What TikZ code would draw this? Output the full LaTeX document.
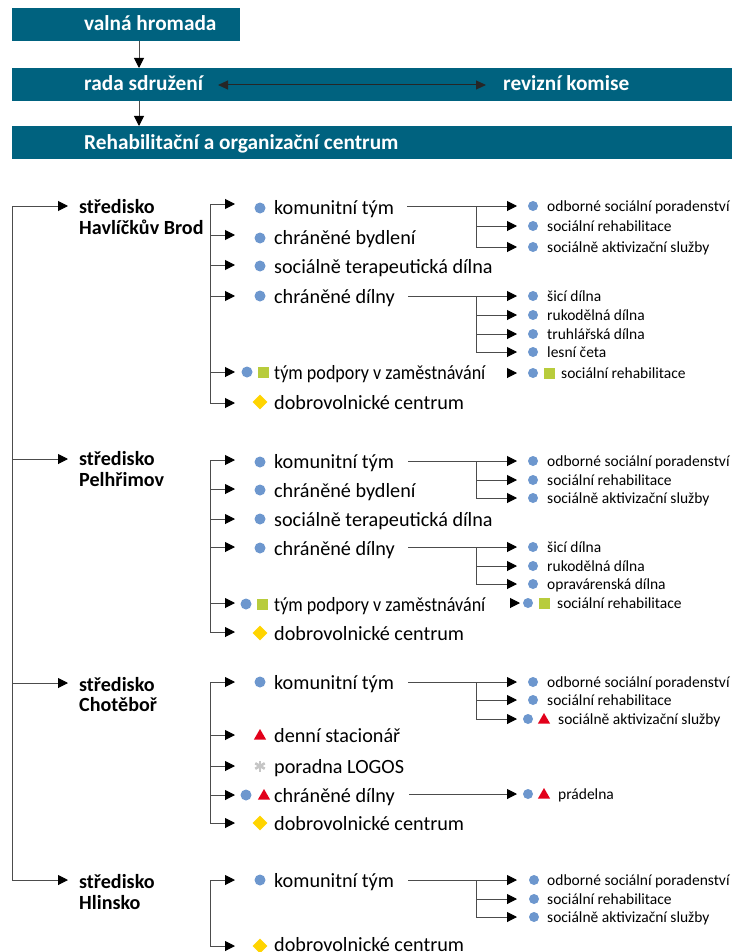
\documentclass[tikz,border=0pt]{standalone}
\usepackage{fontspec}
\setmainfont{Carlito}
\usetikzlibrary{arrows.meta,shapes.geometric}
\definecolor{hdrc}{HTML}{00627F}
\definecolor{dotc}{HTML}{6D97CE}
\definecolor{sqc}{HTML}{B8CC3C}
\definecolor{diac}{HTML}{FFD400}
\definecolor{tric}{HTML}{E2001A}
\definecolor{astc}{HTML}{C6C6C6}
\tikzset{
 box/.style={fill=hdrc, anchor=north west, inner sep=0pt, minimum height=33pt},
 hd/.style={anchor=base west, inner sep=0pt, yshift=-1pt, text=white, font=\bfseries\fontsize{21.3}{24}\selectfont},
 ctr/.style={anchor=base west, inner sep=0pt, yshift=-0.5pt, font=\bfseries\fontsize{20.1}{22}\selectfont},
 big/.style={anchor=base west, inner sep=0pt, yshift=-1pt, font=\fontsize{20.2}{22}\selectfont},
 sml/.style={anchor=base west, inner sep=0pt, yshift=-0.5pt, font=\fontsize{15.5}{17}\selectfont},
 ln/.style={draw=black!70, line width=1pt},
 arr/.style={ln, -{Triangle[length=10pt,width=10pt,color=black]}},
 darr/.style={draw=black!85, line width=1pt, {Triangle[length=10pt,width=9pt]}-{Triangle[length=10pt,width=9pt]}},
 dot/.style={circle, fill=dotc, minimum size=11pt, inner sep=0pt},
 sdot/.style={circle, fill=dotc, minimum size=10pt, inner sep=0pt},
 sq/.style={rectangle, fill=sqc, minimum size=11pt, inner sep=0pt},
 dia/.style={diamond, fill=diac, minimum size=15pt, inner sep=0pt},
 tri/.style={regular polygon, regular polygon sides=3, fill=tric, minimum size=14pt, inner sep=0pt},
}
\newcommand\Xbr[2]{\coordinate (#1-s) at (210,#2); \coordinate (#1-t) at (235,#2); \draw[arr] (#1-s) -- (#1-t);}
\newcommand\Xsub[2]{\coordinate (#1-s) at (476,#2); \coordinate (#1-t) at (517,#2); \draw[arr] (#1-s) -- (#1-t);}
\newcommand\Xast[1]{\foreach \a in {90,30,-30}{\draw[astc, line width=2.6pt] ([shift={(\a:5.5)}]#1) -- ([shift={(\a+180:5.5)}]#1);}}
\newcommand\Xtp{\scalebox{0.895}[1]{tým podpory v zaměstnávání}}
\begin{document}
\begin{tikzpicture}[x=1pt,y=-1pt]
\useasboundingbox (0,0) rectangle (732,952);
% ---------- header ----------
\node[box, minimum width=228pt] (vh) at (12,8) {};
\node[box, minimum width=720pt] (rs) at (12,68) {};
\node[box, minimum width=720pt] (roc) at (12,126) {};
\node[hd] (vht) at (84,30) {valná hromada};
\node[hd] (rst) at (84,90) {rada sdružení};
\node[hd] (rkt) at (503,90) {revizní komise};
\node[hd] (roct) at (84,149) {Rehabilitační a organizační centrum};
\coordinate (dx) at (139,0);
\draw[arr] (vh.south -| dx) -- (rs.north -| dx);
\draw[arr] (rs.south -| dx) -- (roc.north -| dx);
\coordinate (rs-r) at (218,85);
\coordinate (rk-l) at (486,85);
\draw[darr] (rs-r) -- (rk-l);
% ---------- spine ----------
\coordinate (sp-hb) at (12,206);
\coordinate (sp-pe) at (12,459);
\coordinate (sp-ch) at (12,683);
\coordinate (sp-hl) at (12,880);
\coordinate (in-hb) at (68,206);
\coordinate (in-pe) at (68,459);
\coordinate (in-ch) at (68,683);
\coordinate (in-hl) at (68,880);
\draw[arr] (sp-hl) -- (sp-hb) -- (in-hb);
\draw[arr] (sp-hb) -- (sp-hl) -- (in-hl);
\draw[arr] (sp-pe) -- (in-pe);
\draw[arr] (sp-ch) -- (in-ch);
% ---------- Havlíčkův Brod ----------
\node[ctr] (hb-l1) at (79,213) {středisko};
\node[ctr] (hb-l2) at (79,234) {Havlíčkův Brod};
\Xbr{hb-a1}{204}\Xbr{hb-a2}{235}\Xbr{hb-a3}{265}\Xbr{hb-a4}{296}\Xbr{hb-a5}{372}\Xbr{hb-a6}{403}
\draw[ln] (hb-a1-s) -- (hb-a6-s);
\node[dot] (hb-m1) at (260,208) {}; \node[big] (hb-1) at (274,213) {komunitní tým};
\node[dot] (hb-m2) at (260,238) {}; \node[big] (hb-2) at (274,243) {chráněné bydlení};
\node[dot] (hb-m3) at (260,266) {}; \node[big] (hb-3) at (274,272) {sociálně terapeutická dílna};
\node[dot] (hb-m4) at (260,296) {}; \node[big] (hb-4) at (274,302) {chráněné dílny};
\node[dot] (hb-m5a) at (247,372) {}; \node[sq] (hb-m5b) at (263,372) {}; \node[big] (hb-5) at (274,378) {\Xtp};
\node[dia] (hb-m6) at (260,402) {}; \node[big] (hb-6) at (274,408) {dobrovolnické centrum};
% komunitní tým subs
\coordinate (hb-k0) at (407,206);
\Xsub{hb-k1}{206}\Xsub{hb-k2}{226}\Xsub{hb-k3}{247}
\draw[ln] (hb-k0) -- (hb-k1-s) -- (hb-k3-s);
\node[sdot] (hb-km1) at (533,206) {}; \node[sml] (hb-k1t) at (547,211) {odborné sociální poradenství};
\node[sdot] (hb-km2) at (533,226) {}; \node[sml] (hb-k2t) at (547,231) {sociální rehabilitace};
\node[sdot] (hb-km3) at (533,247) {}; \node[sml] (hb-k3t) at (547,252) {sociálně aktivizační služby};
% chráněné dílny subs
\coordinate (hb-d0) at (408,296);
\Xsub{hb-d1}{296}\Xsub{hb-d2}{315}\Xsub{hb-d3}{334}\Xsub{hb-d4}{352}
\draw[ln] (hb-d0) -- (hb-d1-s) -- (hb-d4-s);
\node[sdot] (hb-dm1) at (533,296) {}; \node[sml] (hb-d1t) at (547,301) {šicí dílna};
\node[sdot] (hb-dm2) at (533,315) {}; \node[sml] (hb-d2t) at (547,320) {rukodělná dílna};
\node[sdot] (hb-dm3) at (533,334) {}; \node[sml] (hb-d3t) at (547,339) {truhlářská dílna};
\node[sdot] (hb-dm4) at (533,352) {}; \node[sml] (hb-d4t) at (547,357) {lesní četa};
% tým podpory sub
\coordinate (hb-p0) at (507,373); \coordinate (hb-p1) at (517,373);
\draw[arr] (hb-p0) -- (hb-p1);
\node[sdot] (hb-pm1) at (533,373) {}; \node[sq] (hb-pm2) at (549,373) {}; \node[sml] (hb-pt) at (561,378) {sociální rehabilitace};
% ---------- Pelhřimov ----------
\node[ctr] (pe-l1) at (79,465) {středisko};
\node[ctr] (pe-l2) at (79,486) {Pelhřimov};
\Xbr{pe-a1}{460}\Xbr{pe-a2}{489}\Xbr{pe-a3}{519}\Xbr{pe-a4}{547}\Xbr{pe-a5}{603}\Xbr{pe-a6}{632}
\draw[ln] (pe-a1-s) -- (pe-a6-s);
\node[dot] (pe-m1) at (260,462) {}; \node[big] (pe-1) at (274,467) {komunitní tým};
\node[dot] (pe-m2) at (260,490) {}; \node[big] (pe-2) at (274,496) {chráněné bydlení};
\node[dot] (pe-m3) at (260,519) {}; \node[big] (pe-3) at (274,525) {sociálně terapeutická dílna};
\node[dot] (pe-m4) at (260,548) {}; \node[big] (pe-4) at (274,554) {chráněné dílny};
\node[dot] (pe-m5a) at (246,604) {}; \node[sq] (pe-m5b) at (262,604) {}; \node[big] (pe-5) at (274,610) {\Xtp};
\node[dia] (pe-m6) at (260,633) {}; \node[big] (pe-6) at (274,639) {dobrovolnické centrum};
\coordinate (pe-k0) at (408,461);
\Xsub{pe-k1}{461}\Xsub{pe-k2}{480}\Xsub{pe-k3}{498}
\draw[ln] (pe-k0) -- (pe-k1-s) -- (pe-k3-s);
\node[sdot] (pe-km1) at (533,461) {}; \node[sml] (pe-k1t) at (547,466) {odborné sociální poradenství};
\node[sdot] (pe-km2) at (533,480) {}; \node[sml] (pe-k2t) at (547,485) {sociální rehabilitace};
\node[sdot] (pe-km3) at (533,498) {}; \node[sml] (pe-k3t) at (547,503) {sociálně aktivizační služby};
\coordinate (pe-d0) at (408,547);
\Xsub{pe-d1}{547}\Xsub{pe-d2}{566}\Xsub{pe-d3}{584}
\draw[ln] (pe-d0) -- (pe-d1-s) -- (pe-d3-s);
\node[sdot] (pe-dm1) at (533,547) {}; \node[sml] (pe-d1t) at (547,552) {šicí dílna};
\node[sdot] (pe-dm2) at (533,566) {}; \node[sml] (pe-d2t) at (547,571) {rukodělná dílna};
\node[sdot] (pe-dm3) at (533,584) {}; \node[sml] (pe-d3t) at (547,589) {opravárenská dílna};
\coordinate (pe-p0) at (510,603); \coordinate (pe-p1) at (520,603);
\draw[arr] (pe-p0) -- (pe-p1);
\node[sdot] (pe-pm1) at (528,603) {}; \node[sq] (pe-pm2) at (544,603) {}; \node[sml] (pe-pt) at (557,608) {sociální rehabilitace};
% ---------- Chotěboř ----------
\node[ctr] (ch-l1) at (79,691) {středisko};
\node[ctr] (ch-l2) at (79,711) {Chotěboř};
\Xbr{ch-a1}{682}\Xbr{ch-a2}{735}\Xbr{ch-a3}{766}\Xbr{ch-a4}{795}\Xbr{ch-a5}{823}
\draw[ln] (ch-a1-s) -- (ch-a5-s);
\node[dot] (ch-m1) at (260,682) {}; \node[big] (ch-1) at (274,688) {komunitní tým};
\node[tri] (ch-m2) at (260,736) {}; \node[big] (ch-2) at (274,741) {denní stacionář};
\coordinate (ch-m3) at (260,766); \Xast{ch-m3} \node[big] (ch-3) at (274,772) {poradna LOGOS};
\node[dot] (ch-m4a) at (246,795) {}; \node[tri] (ch-m4b) at (264,796) {}; \node[big] (ch-4) at (274,801) {chráněné dílny};
\node[dia] (ch-m5) at (260,823) {}; \node[big] (ch-5) at (274,829) {dobrovolnické centrum};
\coordinate (ch-k0) at (408,682);
\Xsub{ch-k1}{682}\Xsub{ch-k2}{700}\Xsub{ch-k3}{719}
\draw[ln] (ch-k0) -- (ch-k1-s) -- (ch-k3-s);
\node[sdot] (ch-km1) at (533,682) {}; \node[sml] (ch-k1t) at (547,687) {odborné sociální poradenství};
\node[sdot] (ch-km2) at (533,700) {}; \node[sml] (ch-k2t) at (547,705) {sociální rehabilitace};
\node[sdot] (ch-km3a) at (528,719) {}; \node[tri] (ch-km3b) at (544,720) {}; \node[sml] (ch-k3t) at (558,724) {sociálně aktivizační služby};
\coordinate (ch-d0) at (409,794); \coordinate (ch-d1) at (517,794);
\draw[arr] (ch-d0) -- (ch-d1);
\node[sdot] (ch-dm1) at (528,794) {}; \node[tri] (ch-dm2) at (544,795) {}; \node[sml] (ch-dt) at (558,799) {prádelna};
% ---------- Hlinsko ----------
\node[ctr] (hl-l1) at (79,888) {středisko};
\node[ctr] (hl-l2) at (79,909) {Hlinsko};
\Xbr{hl-a1}{880}\Xbr{hl-a2}{946}
\draw[ln] (hl-a1-s) -- (hl-a2-s);
\node[dot] (hl-m1) at (260,880) {}; \node[big] (hl-1) at (274,886) {komunitní tým};
\node[dia] (hl-m2) at (260,946) {}; \node[big] (hl-2) at (274,950) {dobrovolnické centrum};
\coordinate (hl-k0) at (408,880);
\Xsub{hl-k1}{880}\Xsub{hl-k2}{899}\Xsub{hl-k3}{917}
\draw[ln] (hl-k0) -- (hl-k1-s) -- (hl-k3-s);
\node[sdot] (hl-km1) at (534,880) {}; \node[sml] (hl-k1t) at (547,885) {odborné sociální poradenství};
\node[sdot] (hl-km2) at (534,899) {}; \node[sml] (hl-k2t) at (547,904) {sociální rehabilitace};
\node[sdot] (hl-km3) at (534,917) {}; \node[sml] (hl-k3t) at (547,922) {sociálně aktivizační služby};
\end{tikzpicture}
\end{document}
